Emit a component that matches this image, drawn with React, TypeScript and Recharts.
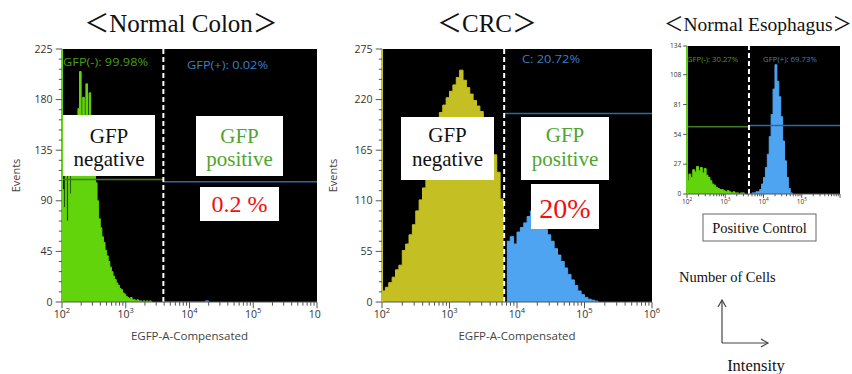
import React from 'react';
import { ComposedChart, Area, XAxis, YAxis, CartesianGrid, ReferenceLine } from 'recharts';

// histogram counts per log10(intensity) bin, bins start at 10^2
const colonNegStart = 2.0;
const colonNegStep = 0.025;
const colonNeg = [100, 84, 112, 72, 122, 96, 132, 146, 162, 150, 172, 205, 166, 182, 160, 194, 156, 186, 148, 136, 122, 106, 90, 74, 66, 58, 53, 46, 41, 36, 31, 27, 23, 20, 17, 15, 12, 11, 8, 7, 5, 4, 3, 4, 2, 2, 1, 2, 1, 1, 0, 1, 0, 1, 0, 1, 0];
const colonPosStart = 3.6;
const colonPosStep = 0.05;
const colonPos = [0, 0, 0, 0, 0, 0, 0, 0, 0, 0, 0, 0, 0, 1, 0];
const colonGate = 3.59;
const colonNegLevel = 109;
const colonPosLevel = 107;
const colonYTicks = [0, 45, 90, 135, 180, 225];

const crcNegStart = 2.0;
const crcNegStep = 0.05;
const crcNeg = [12, 16, 21, 27, 35, 40, 56, 63, 73, 84, 99, 111, 124, 133, 146, 168, 193, 206, 214, 222, 229, 236, 244, 252, 241, 233, 226, 219, 213, 207, 200, 189, 176, 160, 141, 112, 90];
const crcPosStart = 3.85;
const crcPosStep = 0.05;
const crcPos = [66, 71, 63, 76, 81, 86, 93, 99, 103, 96, 86, 79, 73, 66, 58, 51, 44, 37, 30, 24, 18, 12, 8, 5, 3, 2, 1, 0];
const crcGate = 3.81;
const crcPosLevel = 205;
const crcYTicks = [0, 55, 110, 165, 220, 275];

const esoNegStart = 2.0;
const esoNegStep = 0.05;
const esoNeg = [12, 18, 15, 22, 20, 25, 21, 24, 19, 23, 17, 15, 12, 9, 8, 6, 5, 4, 4, 3, 2, 3, 2, 1, 2, 1, 1, 0, 1, 1, 0];
const esoPosStart = 3.65;
const esoPosStep = 0.05;
const esoPos = [0, 1, 1, 2, 2, 4, 9, 15, 24, 36, 52, 72, 95, 117, 102, 88, 70, 48, 30, 15, 5, 1, 0];
const esoGate = 3.62;
const esoNegLevel = 61;
const esoPosLevel = 62;
const esoYTicks = [0, 27, 54, 81, 108, 134];

const decades = [2, 3, 4, 5, 6];
const subMultiples = [2, 3, 4, 5, 6, 7, 8, 9];

const GREEN = '#62d40c';
const YELLOW = '#c4bf22';
const BLUE = '#4ea4f0';
const GREEN_LINE = '#3f7d1e';
const BLUE_LINE = '#2b6aa6';
const GREEN_TEXT = '#4a9e1c';
const BLUE_TEXT = '#3b7fc4';
const SANS = "'Open Sans', 'Noto Sans', sans-serif";
const SERIF = "'Liberation Serif', 'Noto Sans CJK JP', serif";

type Row = { x: number; neg?: number; pos?: number };

function buildRows(negStart: number, negStep: number, neg: number[], posStart: number, posStep: number, pos: number[]): Row[] {
  const rows: Row[] = [];
  neg.forEach((n, i) => rows.push({ x: +(negStart + i * negStep).toFixed(3), neg: n }));
  pos.forEach((n, i) => rows.push({ x: +(posStart + i * posStep).toFixed(3), pos: n }));
  return rows.sort((a, b) => a.x - b.x);
}

const xTicks: number[] = [];
decades.forEach((d) => {
  xTicks.push(d);
  if (d < 6) subMultiples.forEach((m) => xTicks.push(+(d + Math.log10(m)).toFixed(4)));
});

function XTick(props: any) {
  const { x, y, payload, fs, lastLabel } = props;
  const v = payload.value;
  const major = Math.abs(v - Math.round(v)) < 1e-6;
  const k = fs / 10;
  return (
    <g>
      <line x1={x} x2={x} y1={y} y2={y + (major ? 6 : 3.5) * k} stroke="#555" />
      {major && v <= lastLabel && (
        <text x={x} y={y + 15 * k} textAnchor="middle" fontSize={fs} fill="#333" fontFamily={SANS}>
          10<tspan dy={-fs * 0.45} fontSize={fs * 0.72}>{Math.round(v)}</tspan>
        </text>
      )}
    </g>
  );
}

function YTick(props: any) {
  const { x, y, payload, fs, majors } = props;
  const major = majors.includes(payload.value);
  const k = fs / 10;
  return (
    <g>
      <line x1={x} x2={x - (major ? 6 : 3) * k} y1={y} y2={y} stroke="#555" />
      {major && (
        <text x={x - 9 * k} y={y} dy={fs * 0.35} textAnchor="end" fontSize={fs} fill="#333" fontFamily={SANS}>
          {payload.value}
        </text>
      )}
    </g>
  );
}

type PanelProps = {
  left: number; top: number; width: number; height: number; marginRight: number;
  yAxisWidth: number; marginTop: number; xAxisHeight: number;
  rows: Row[]; yTicks: number[]; yMinorStep?: number;
  negColor: string; gate: number; negLevel?: number; posLevel?: number;
  fs: number; lastLabel: number; xLabel?: string; yLabelOffset?: number;
};

function Histogram(p: PanelProps) {
  const yMax = p.yTicks[p.yTicks.length - 1];
  const allY: number[] = [];
  if (p.yMinorStep) {
    for (let i = 0; i * p.yMinorStep <= yMax; i++) allY.push(i * p.yMinorStep);
  } else allY.push(...p.yTicks);
  return (
    <div style={{ position: 'absolute', left: p.left, top: p.top, width: p.width, height: p.height, overflow: 'hidden' }}>
      <ComposedChart width={p.width} height={p.height} data={p.rows}
        margin={{ top: p.marginTop, right: p.marginRight, bottom: 4, left: 0 }}>
        <CartesianGrid fill="#000" fillOpacity={1} horizontal={false} vertical={false} />
        <XAxis dataKey="x" type="number" domain={[2, 6]} ticks={xTicks} interval={0}
          height={p.xAxisHeight} tickSize={0} tickMargin={0} allowDataOverflow
          axisLine={{ stroke: '#555' }} tickLine={false}
          tick={(t: any) => <XTick {...t} fs={p.fs} lastLabel={p.lastLabel} />}
          label={p.xLabel ? { value: p.xLabel, position: 'insideBottom', offset: 4, fontSize: 11.5, fill: '#444', fontFamily: SANS } : undefined} />
        <YAxis type="number" domain={[0, yMax]} ticks={allY} interval={0} width={p.yAxisWidth}
          tickSize={0} tickMargin={0} allowDataOverflow
          axisLine={{ stroke: p.negColor, strokeWidth: 2 }} tickLine={false}
          tick={(t: any) => <YTick {...t} fs={p.fs} majors={p.yTicks} />}
          label={p.yLabelOffset !== undefined ? { value: 'Events', angle: -90, position: 'insideLeft', offset: p.yLabelOffset, fontSize: 11, fill: '#444', fontFamily: SANS, style: { textAnchor: 'middle' } } : undefined} />
        <Area dataKey="neg" type="stepAfter" stroke={p.negColor} strokeWidth={1} fill={p.negColor} fillOpacity={1} isAnimationActive={false} connectNulls={false} />
        <Area dataKey="pos" type="stepAfter" stroke={BLUE} strokeWidth={1} fill={BLUE} fillOpacity={1} isAnimationActive={false} connectNulls={false} />
        {p.negLevel !== undefined && (
          <ReferenceLine segment={[{ x: 2, y: p.negLevel }, { x: p.gate, y: p.negLevel }]} stroke={GREEN_LINE} strokeWidth={1.5} />
        )}
        {p.posLevel !== undefined && (
          <ReferenceLine segment={[{ x: p.gate, y: p.posLevel }, { x: 6, y: p.posLevel }]} stroke={BLUE_LINE} strokeWidth={1.5} />
        )}
        <ReferenceLine x={p.gate} stroke="#fff" strokeWidth={2} strokeDasharray="5 3" />
      </ComposedChart>
    </div>
  );
}

function Box({ x, y, w, h, lines, color, fs, baselines, stroke }: any) {
  return (
    <g>
      <rect x={x} y={y} width={w} height={h} fill="#fff" stroke={stroke || 'none'} />
      {lines.map((t: string, i: number) => (
        <text key={i} x={x + w / 2} y={baselines[i]} textAnchor="middle" fontSize={fs} fill={color} fontFamily={SERIF}>{t}</text>
      ))}
    </g>
  );
}

function Note({ x, y, w, fs, color, children }: any) {
  return (
    <text x={x} y={y} fontSize={fs} fill={color} fontFamily={SANS} textLength={w} lengthAdjust="spacingAndGlyphs">{children}</text>
  );
}

export default function App() {
  const colonRows = buildRows(colonNegStart, colonNegStep, colonNeg, colonPosStart, colonPosStep, colonPos);
  const crcRows = buildRows(crcNegStart, crcNegStep, crcNeg, crcPosStart, crcPosStep, crcPos);
  const esoRows = buildRows(esoNegStart, esoNegStep, esoNeg, esoPosStart, esoPosStep, esoPos);
  const posGreen = '#4ea52f';
  return (
    <div style={{ position: 'relative', width: 852, height: 374, background: '#fff', overflow: 'hidden' }}>
      <style>{'body{margin:0}'}</style>
      <Histogram left={0} top={30} width={321} height={318} marginRight={4} yAxisWidth={62} marginTop={19} xAxisHeight={42}
        rows={colonRows} yTicks={colonYTicks} yMinorStep={9} negColor={GREEN} gate={colonGate}
        negLevel={colonNegLevel} posLevel={colonPosLevel} fs={10.5} lastLabel={6}
        xLabel="EGFP-A-Compensated" yLabelOffset={16} />
      <Histogram left={322} top={30} width={344} height={318} marginRight={14} yAxisWidth={60} marginTop={19} xAxisHeight={42}
        rows={crcRows} yTicks={crcYTicks} yMinorStep={11} negColor={YELLOW} gate={crcGate}
        posLevel={crcPosLevel} fs={10.5} lastLabel={6}
        xLabel="EGFP-A-Compensated" yLabelOffset={11} />
      <Histogram left={656} top={30} width={188} height={182} marginRight={4} yAxisWidth={31} marginTop={16} xAxisHeight={14}
        rows={esoRows} yTicks={esoYTicks} negColor={GREEN} gate={esoGate}
        negLevel={esoNegLevel} posLevel={esoPosLevel} fs={6.5} lastLabel={5} />
      <svg width={852} height={374} style={{ position: 'absolute', left: 0, top: 0, pointerEvents: 'none' }}>
        <text x={181} y={32} textAnchor="middle" fontSize={25} fill="#111" fontFamily={SERIF}>＜Normal Colon＞</text>
        <text x={487} y={32} textAnchor="middle" fontSize={25} fill="#111" fontFamily={SERIF}>＜CRC＞</text>
        <text x={758} y={31} textAnchor="middle" fontSize={19.5} fill="#111" fontFamily={SERIF}>＜Normal Esophagus＞</text>

        <Note x={63} y={66} w={85} fs={11} color={GREEN_TEXT}>GFP(-): 99.98%</Note>
        <Note x={187} y={69} w={81} fs={11} color={BLUE_TEXT}>GFP(+): 0.02%</Note>
        <Note x={522} y={63} w={58} fs={11} color={BLUE_TEXT}>C: 20.72%</Note>
        <Note x={687} y={62} w={51} fs={7.5} color={GREEN_TEXT}>GFP(-): 30.27%</Note>
        <Note x={763} y={62} w={54} fs={7.5} color={BLUE_TEXT}>GFP(+): 69.73%</Note>

        <Box x={63} y={115} w={92} h={61} lines={['GFP', 'negative']} color="#111" fs={21} baselines={[143, 166]} />
        <Box x={196} y={116} w={87} h={60} lines={['GFP', 'positive']} color={posGreen} fs={21} baselines={[143, 166]} />
        <Box x={200} y={187} w={79} h={34} lines={['0.2 %']} color="#f01010" fs={24} baselines={[212]} />

        <Box x={401} y={117} w={93} h={63} lines={['GFP', 'negative']} color="#111" fs={21} baselines={[142, 166]} />
        <Box x={521} y={117} w={88} h={63} lines={['GFP', 'positive']} color={posGreen} fs={21} baselines={[142, 166]} />
        <Box x={531} y={184} w={68} h={45} lines={['20%']} color="#f01010" fs={28} baselines={[218]} />

        <Box x={703} y={214} w={113} h={27} lines={['Positive Control']} color="#111" fs={14.5} baselines={[233]} stroke="#666" />

        <text x={679} y={282} fontSize={14.5} fill="#111" fontFamily={SERIF}>Number of Cells</text>
        <g stroke="#444" strokeWidth={1.2} fill="none">
          <line x1={722} y1={343} x2={722} y2={300} />
          <polyline points="718,307 722,300 726,307" />
          <line x1={722} y1={343} x2={768} y2={343} />
          <polyline points="761,339 768,343 761,347" />
        </g>
        <text x={756} y={371} textAnchor="middle" fontSize={16.5} fill="#111" fontFamily={SERIF}>Intensity</text>
      </svg>
    </div>
  );
}
